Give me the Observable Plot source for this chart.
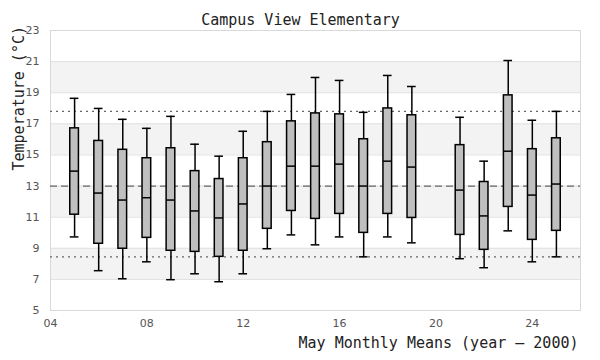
<!DOCTYPE html>
<html>
<head>
<meta charset="utf-8">
<script src="https://cdn.jsdelivr.net/npm/d3@7"></script>
<script src="https://cdn.jsdelivr.net/npm/@observablehq/plot@0.6"></script>
<style>
  html, body { margin: 0; padding: 0; background: #fff; }
</style>
</head>
<body>
<div id="chart"></div>
<script>
const years   = [5, 6, 7, 8, 9, 10, 11, 12, 13, 14, 15, 16, 17, 18, 19, 21, 22, 23, 24, 25];
const whiskLo = [9.73, 7.56, 7.04, 8.13, 6.98, 7.36, 6.85, 7.36, 8.97, 9.86, 9.22, 9.73, 8.45, 9.73, 9.35, 8.33, 7.75, 10.12, 8.13, 8.45];
const q1      = [11.16, 9.29, 8.97, 9.67, 8.84, 8.77, 8.45, 8.84, 10.25, 11.40, 10.89, 11.21, 9.99, 11.21, 10.95, 9.86, 8.90, 11.66, 9.54, 10.12];
const median  = [13.96, 12.55, 12.10, 12.25, 12.10, 11.40, 10.95, 11.85, 13.00, 14.28, 14.28, 14.41, 13.00, 14.60, 14.22, 12.74, 11.08, 15.24, 12.42, 13.13];
const q3      = [16.71, 15.90, 15.33, 14.79, 15.43, 13.96, 13.45, 14.79, 15.82, 17.16, 17.67, 17.61, 16.01, 17.99, 17.55, 15.63, 13.26, 18.83, 15.37, 16.07];
const whiskHi = [18.64, 17.99, 17.29, 16.71, 17.48, 15.69, 14.92, 16.52, 17.80, 18.89, 19.98, 19.79, 17.74, 20.11, 19.40, 17.42, 14.60, 21.07, 17.23, 17.80];

const meanLine = [13.0];
const bandLines = [17.80, 8.45];
const yTicks = [5, 7, 9, 11, 13, 15, 17, 19, 21, 23];
const xTicks = [4, 8, 12, 16, 20, 24];
const shadedBands = [[7, 9], [11, 13], [15, 17], [19, 21]];

const titleText = "Campus View Elementary";
const xTitle = "May Monthly Means (year \u2013 2000)";
const yTitle = "Temperature (\u00B0C)";

const data = years.map((y, i) => ({year: y, lo: whiskLo[i], q1: q1[i], med: median[i], q3: q3[i], hi: whiskHi[i]}));
const bands = shadedBands.map(([a, b]) => ({a, b}));
const hw = 0.18;
const mono = "DejaVu Sans Mono";

const chart = Plot.plot({
  width: 600,
  height: 360,
  marginTop: 30,
  marginBottom: 50,
  marginLeft: 50,
  marginRight: 20,
  style: {fontFamily: "DejaVu Sans", fontSize: "11px", color: "#555", background: "#fff"},
  x: {domain: [4, 26], ticks: xTicks, tickFormat: d3.format("02d"), tickSize: 0, tickPadding: 9, label: null},
  y: {domain: [5, 23], ticks: yTicks, tickSize: 0, tickPadding: 11, label: null},
  marks: [
    Plot.rect(bands, {y1: "a", y2: "b", fill: "#f3f3f3"}),
    Plot.ruleY(yTicks.slice(1, -1), {stroke: "#e0e0e0", strokeWidth: 1}),
    Plot.frame({stroke: "#d9d9d9", strokeWidth: 1}),
    Plot.ruleY(meanLine, {stroke: "#666", strokeDasharray: "7,4", strokeWidth: 1.2}),
    Plot.ruleY(bandLines, {stroke: "#666", strokeDasharray: "2,4", strokeWidth: 1.2}),
    Plot.ruleX(data, {x: "year", y1: "lo", y2: "hi", stroke: "black", strokeWidth: 1.5}),
    Plot.ruleY(data, {x1: d => d.year - hw, x2: d => d.year + hw, y: "hi", stroke: "black", strokeWidth: 1.5}),
    Plot.ruleY(data, {x1: d => d.year - hw, x2: d => d.year + hw, y: "lo", stroke: "black", strokeWidth: 1.5}),
    Plot.rect(data, {x1: d => d.year - hw, x2: d => d.year + hw, y1: "q1", y2: "q3", fill: "#bfbfbf", stroke: "black", strokeWidth: 1.5}),
    Plot.ruleY(data, {x1: d => d.year - hw, x2: d => d.year + hw, y: "med", stroke: "black", strokeWidth: 1.5}),
    Plot.text([titleText], {text: d => d, frameAnchor: "top", dx: -15, dy: -16, fontFamily: mono, fontSize: 15, fill: "#222"}),
    Plot.text([xTitle], {text: d => d, frameAnchor: "bottom-right", textAnchor: "end", dx: -2, dy: 37, fontFamily: mono, fontSize: 15, fill: "#222"}),
    Plot.text([yTitle], {text: d => d, frameAnchor: "left", rotate: -90, dx: -31, fontFamily: mono, fontSize: 15, fill: "#222"})
  ]
});
document.getElementById("chart").appendChild(chart);
</script>
</body>
</html>
